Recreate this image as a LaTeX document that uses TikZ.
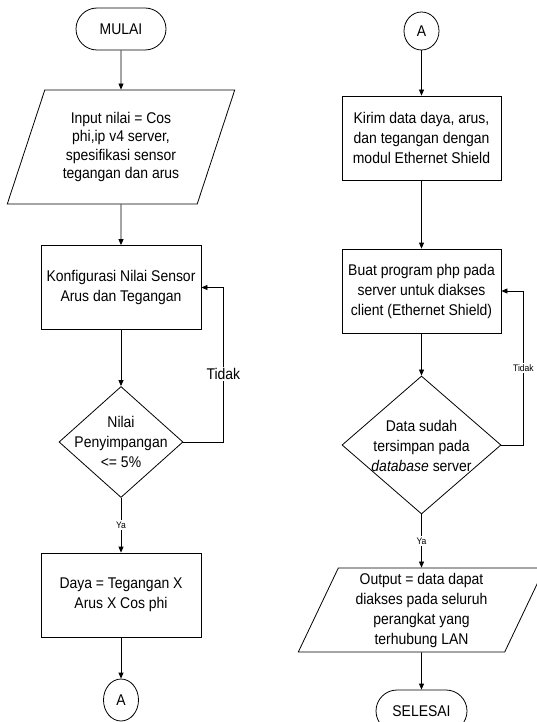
\documentclass[tikz,border=0pt]{standalone}
\usepackage{fontspec}
\setmainfont[FakeStretch=0.9]{Liberation Sans}
\usetikzlibrary{shapes.geometric,shapes.misc,arrows.meta}

\tikzset{
  every node/.style={font=\fontsize{15.5}{20}\selectfont},
  terminal/.style={draw,rounded rectangle,minimum width=90pt,minimum height=42pt,inner sep=0pt},
  io/.style={draw,trapezium,trapezium stretches=true,align=center,inner sep=2pt},
  process/.style={draw,rectangle,minimum width=160pt,minimum height=84pt,align=center,inner sep=0pt},
  decision/.style={draw,diamond,inner sep=0pt},
  connector/.style={draw,ellipse,minimum width=35pt,minimum height=38pt,inner sep=0pt},
  flow/.style={-{Triangle[length=6pt,width=5pt]}},
  edgelbl/.style={font=\fontsize{9.5}{10}\selectfont,fill=white,inner sep=1.5pt}
}

\begin{document}
\begin{tikzpicture}[x=1pt,y=-1pt,line width=0.8pt]

\useasboundingbox (0,0) rectangle (537,722);

% kolom kiri
\node[terminal] (mulai) at (121,29) {MULAI};
\node[io,trapezium left angle=68,trapezium right angle=112,minimum width=228pt,minimum height=114pt,font=\fontsize{15.5}{18.3}\selectfont] (input) at (121,147) {Input nilai = Cos\\phi,ip v4 server,\\spesifikasi sensor\\tegangan dan arus};
\node[process] (konf) at (121,287.5) {Konfigurasi Nilai Sensor\\Arus dan Tegangan};
\node[decision,minimum width=124pt,minimum height=111pt] (dec1) at (121,442) {};
\node[align=center] (dec1txt) at (dec1) {Nilai\\Penyimpangan\\<= 5\%};
\node[process] (daya) at (121,595) {Daya = Tegangan X\\Arus X Cos phi};
\node[connector,minimum height=42pt] (a1) at (121,700) {A};

\draw[flow] (mulai) -- (input);
\draw[flow] (input) -- (konf);
\draw[flow] (konf) -- (dec1);
\draw[flow] (dec1) -- node[edgelbl]{Ya} (daya);
\draw[flow] (daya) -- (a1);
\draw[flow] (dec1.east) -- ++(40,0) |- node[pos=0.22,fill=white,inner sep=1pt]{Tidak} (konf.east);

% kolom kanan
\node[connector] (a2) at (421.5,31) {A};
\node[process,minimum width=159pt] (kirim) at (421.5,138) {Kirim data daya, arus,\\dan tegangan dengan\\modul Ethernet Shield};
\node[process,minimum width=159pt] (buat) at (421.5,291) {Buat program php pada\\server untuk diakses\\client (Ethernet Shield)};
\node[decision,minimum width=159pt,minimum height=138pt] (dec2) at (421.5,445) {};
\node[align=center] (dec2txt) at (421.5,446) {Data sudah\\tersimpan pada\\\textit{database} server};
\node[io,trapezium left angle=67.4,trapezium right angle=112.6,minimum width=247pt,minimum height=84pt] (output) at (421.5,610) {Output = data dapat\\diakses pada seluruh\\perangkat yang\\terhubung LAN};
\node[terminal,minimum width=91pt] (selesai) at (421.5,711) {SELESAI};

\draw[flow] (a2) -- (kirim);
\draw[flow] (kirim) -- (buat);
\draw[flow] (buat) -- (dec2);
\draw[flow] (dec2) -- node[edgelbl]{Ya} (output);
\draw[flow] (output) -- (selesai);
\draw[flow] (dec2.east) -- ++(22,0) |- node[pos=0.25,edgelbl]{Tidak} (buat.east);

\end{tikzpicture}
\end{document}
